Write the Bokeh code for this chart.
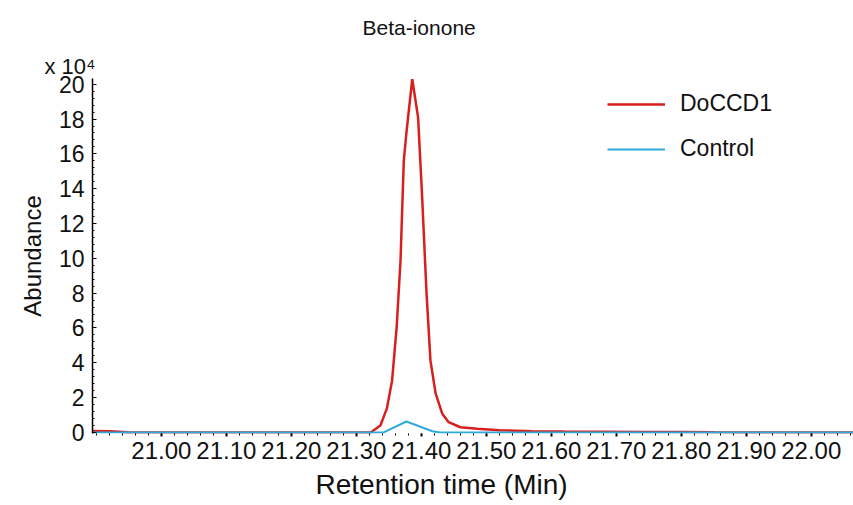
from bokeh.plotting import figure
from bokeh.models import (FixedTicker, NumeralTickFormatter, Legend, LegendItem,
                          Range1d, Title)
from bokeh.embed import file_html
from bokeh.resources import INLINE

# ---- data (abundance in units of 10^4) ----
time_doccd1 = [20.894, 20.920, 20.935, 20.950, 21.000, 21.100, 21.200, 21.300,
               21.322, 21.337, 21.347, 21.355, 21.362, 21.368, 21.373, 21.377,
               21.386, 21.395, 21.401, 21.408, 21.414, 21.422, 21.432, 21.442,
               21.460, 21.486, 21.520, 21.570, 21.620, 21.680, 21.740, 21.800,
               21.850, 21.900, 22.000, 22.065]
abund_doccd1 = [0.08, 0.07, 0.04, 0.0, 0.0, 0.0, 0.0, 0.0,
                0.0, 0.40, 1.38, 2.99, 6.03, 9.89, 15.6, 17.2,
                20.3, 18.1, 13.7, 8.0, 4.14, 2.24, 1.09, 0.59,
                0.30, 0.21, 0.13, 0.07, 0.05, 0.04, 0.03, 0.03,
                0.01, 0.0, 0.0, 0.0]

time_control = [20.894, 21.000, 21.300, 21.342, 21.377, 21.417, 21.429, 21.500, 22.000, 22.065]
abund_control = [0.0, 0.0, 0.0, 0.0, 0.63, 0.07, 0.0, 0.0, 0.0, 0.0]

x_ticks = [21.00, 21.10, 21.20, 21.30, 21.40, 21.50, 21.60, 21.70, 21.80, 21.90, 22.00]
y_ticks = [0, 2, 4, 6, 8, 10, 12, 14, 16, 18, 20]

series_names = ["DoCCD1", "Control"]
FONT = "Liberation Sans"
RED = "#d91e1e"
CYAN = "#2eaadc"
INK = "#111111"

p = figure(width=853, height=505, output_backend="svg", toolbar_location=None,
           x_range=Range1d(20.894, 22.065), y_range=Range1d(-0.06, 20.33),
           min_border_left=92, min_border_right=0, min_border_top=78,
           min_border_bottom=72)
p.outline_line_color = None
p.xgrid.visible = False
p.ygrid.visible = False
p.background_fill_color = "white"
p.border_fill_color = "white"

r_red = p.line(time_doccd1, abund_doccd1, line_color=RED, line_width=2.5)
r_cyan = p.line(time_control, abund_control, line_color=CYAN, line_width=2)

# x axis
xa = p.xaxis[0]
xa.ticker = FixedTicker(ticks=x_ticks,
                        minor_ticks=[round(20.90 + 0.02 * i, 2) for i in range(59)])
xa.formatter = NumeralTickFormatter(format="0.00")
xa.axis_line_color = None
xa.major_tick_in = 0
xa.major_tick_out = 3
xa.minor_tick_in = 0
xa.minor_tick_out = 2
xa.major_tick_line_width = 2
xa.major_label_text_font = FONT
xa.major_label_text_font_size = "24px"
xa.major_label_text_color = INK
xa.major_label_standoff = 5

# x axis label as a below title so it can be positioned like the reference
xt = Title(text="Retention time (Min)", align="left", offset=223, text_font=FONT,
           text_font_size="28px", text_font_style="normal", text_color=INK,
           standoff=11)
p.add_layout(xt, "below")

# y axis
ya = p.yaxis[0]
ya.ticker = FixedTicker(ticks=y_ticks,
                        minor_ticks=[round(0.4 * i, 1) for i in range(51)])
ya.axis_line_color = "black"
ya.axis_line_width = 1.5
ya.major_tick_in = 4
ya.major_tick_out = 0
ya.minor_tick_in = 2
ya.minor_tick_out = 0
ya.major_label_text_font = FONT
ya.major_label_text_font_size = "23px"
ya.major_label_text_color = INK
ya.major_label_standoff = 8
ya.axis_label = "Abundance"
ya.axis_label_text_font = FONT
ya.axis_label_text_font_size = "24px"
ya.axis_label_text_font_style = "normal"
ya.axis_label_text_color = INK
ya.axis_label_standoff = 10

# multiplier (closest to the frame) and chart title (above it)
mult = Title(text="x 10\u2074", align="left", offset=-48, text_font=FONT,
             text_font_size="22px", text_font_style="normal", text_color=INK,
             standoff=0)
p.add_layout(mult, "above")
ttl = Title(text="Beta-ionone", align="left", offset=270, text_font=FONT,
            text_font_size="21px", text_font_style="normal", text_color=INK,
            standoff=25)
p.add_layout(ttl, "above")

legend = Legend(items=[LegendItem(label=series_names[0], renderers=[r_red]),
                       LegendItem(label=series_names[1], renderers=[r_cyan])],
                location=(515, 271), border_line_color=None,
                background_fill_alpha=0, padding=0, margin=0,
                glyph_width=58, glyph_height=20, label_height=20,
                label_standoff=15, spacing=18,
                label_text_font=FONT, label_text_font_size="23px",
                label_text_color=INK)
p.add_layout(legend)

open("out.html", "w").write(file_html(p, INLINE))
